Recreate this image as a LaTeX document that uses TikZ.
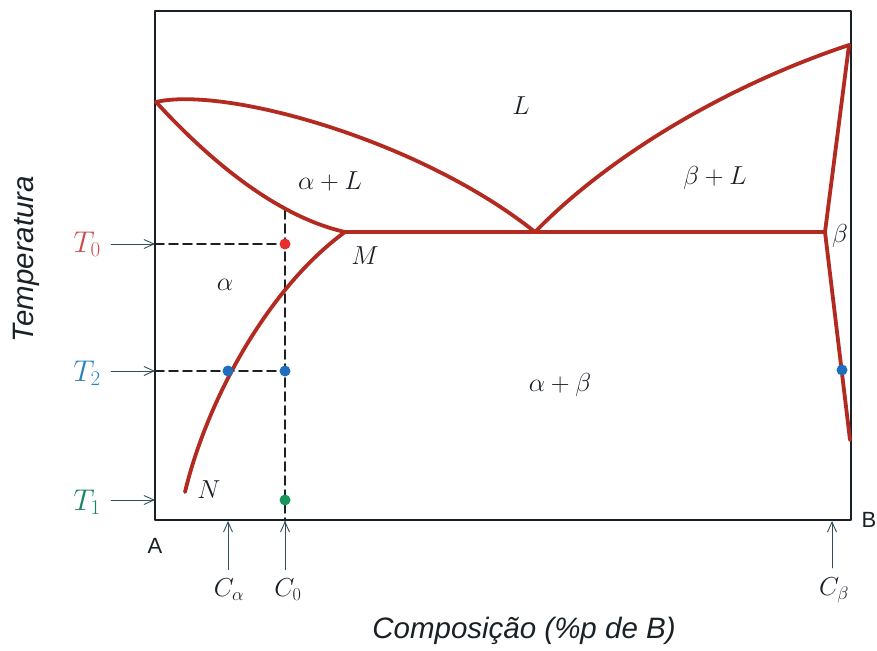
\RequirePackage{fix-cm}
\documentclass[tikz,border=0pt]{standalone}
\usepackage{fontspec}
\setsansfont{Liberation Sans}
\usetikzlibrary{arrows.meta}
\definecolor{phasered}{RGB}{178,42,32}
\definecolor{boxdark}{RGB}{25,32,38}
\definecolor{arrowgray}{RGB}{50,78,92}
\definecolor{tzero}{RGB}{205,78,78}
\definecolor{ttwo}{RGB}{45,130,190}
\definecolor{tone}{RGB}{25,130,100}
\definecolor{dotred}{RGB}{232,45,45}
\definecolor{dotblue}{RGB}{30,110,190}
\definecolor{dotgreen}{RGB}{25,150,90}
\tikzset{
  phase line/.style={line width=3.8pt, phasered, line cap=round, line join=round},
  guide line/.style={line width=1.8pt, boxdark, dash pattern=on 9pt off 5pt},
  mark arrow/.style={line width=0.9pt, arrowgray, -{Straight Barb[length=10pt,width=9pt,line width=0.9pt]}},
  region label/.style={font=\fontsize{26}{30}\selectfont, boxdark},
  temp label/.style={font=\fontsize{30}{34}\selectfont, anchor=center},
  comp label/.style={font=\fontsize{26}{30}\selectfont, boxdark},
  axis text/.style={font=\sffamily\itshape\fontsize{29.5}{34}\selectfont, boxdark}
}

\begin{document}
\begin{tikzpicture}[x=1pt, y=-1pt, line cap=round, line join=round]

  \useasboundingbox (0,0) rectangle (877,650);

  % Box corners
  \coordinate (A) at (155,520);
  \coordinate (B) at (851,520);
  \coordinate (TL) at (155,11);
  \coordinate (TR) at (851,11);

  % Key points of the diagram
  \coordinate (Amelt) at (156,102);   % melting point of A
  \coordinate (Bmelt) at (849,45);    % melting point of B
  \coordinate (M) at (345,232);       % max solubility in alpha
  \coordinate (E) at (535,232);       % eutectic
  \coordinate (Bsol) at (825,232);    % max solubility in beta
  \coordinate (N) at (185,492);
  \coordinate (Bend) at (850,440);

  % Temperatures and compositions
  \coordinate (y0) at (155,244);
  \coordinate (y2) at (155,371);
  \coordinate (y1) at (155,500);
  \coordinate (xa) at (228,521);
  \coordinate (x0) at (285,521);
  \coordinate (xb) at (832,521);
  \coordinate (top0) at (285,210);

  % Frame
  \draw[line width=1.9pt, boxdark, line cap=butt] (TL) rectangle (B);

  % Dashed guides
  \draw[guide line] (y0) -- (285,244);
  \draw[guide line] (y2) -- (285,371);
  \draw[guide line] (top0) -- (x0);

  % Phase boundaries
  \draw[phase line] (Amelt) .. controls (225,86) and (420,140) .. (E);              % liquidus left
  \draw[phase line] (Amelt) .. controls (200,150) and (270,215) .. (M);             % solidus left
  \draw[phase line] (M) .. controls (268,288) and (207,400) .. (N);                 % solvus left
  \draw[phase line] (E) .. controls (605,160) and (720,88) .. (Bmelt);              % liquidus right
  \draw[phase line] (Bmelt) -- (Bsol) -- (Bend);                                    % solidus/solvus right
  \draw[phase line] (M) -- (Bsol);                                                  % eutectic line

  % Points
  \fill[dotred]   (285,244) circle (5.5pt);
  \fill[dotblue]  (228,371) circle (5.5pt);
  \fill[dotblue]  (285,371) circle (5.5pt);
  \fill[dotblue]  (842,370) circle (5.5pt);
  \fill[dotgreen] (285,500) circle (5.5pt);

  % Region labels
  \node[region label] (lL)  at (521,106) {$L$};
  \node[region label] (laL) at (330,181) {$\alpha + L$};
  \node[region label] (lbL) at (715,178) {$\beta + L$};
  \node[region label] (lb)  at (840,236) {$\beta$};
  \node[region label] (lM)  at (365,256) {$M$};
  \node[region label] (la)  at (225,285) {$\alpha$};
  \node[region label] (lab) at (560,385) {$\alpha + \beta$};
  \node[region label] (lN)  at (209,490) {$N$};

  % Temperature labels
  \node[temp label, tzero] (T0) at (87,244) {$T_0$};
  \node[temp label, ttwo]  (T2) at (87,373) {$T_2$};
  \node[temp label, tone]  (T1) at (87,502) {$T_1$};
  \draw[mark arrow] (T0.east |- y0) ++(7,0) -- (y0);
  \draw[mark arrow] (T2.east |- y2) ++(7,0) -- (y2);
  \draw[mark arrow] (T1.east |- y1) ++(7,0) -- (y1);

  % Composition labels
  \node[comp label] (Ca) at (229,590) {$C_\alpha$};
  \node[comp label] (C0) at (288,590) {$C_0$};
  \node[comp label] (Cb) at (834,590) {$C_\beta$};
  \draw[mark arrow] (Ca.north -| xa) ++(0,-6) -- (xa);
  \draw[mark arrow] (C0.north -| x0) ++(0,-6) -- (x0);
  \draw[mark arrow] (Cb.north -| xb) ++(0,-6) -- (xb);

  % Axis texts
  \node[font=\sffamily\fontsize{22}{26}\selectfont, boxdark] (nA) at (155,546) {A};
  \node[font=\sffamily\fontsize{22}{26}\selectfont, boxdark] (nB) at (869,520) {B};
  \node[axis text] (xlab) at (524,631) {Composição (\%p de B)};
  \node[axis text, rotate=90] (ylab) at (26,259) {Temperatura};

\end{tikzpicture}
\end{document}
